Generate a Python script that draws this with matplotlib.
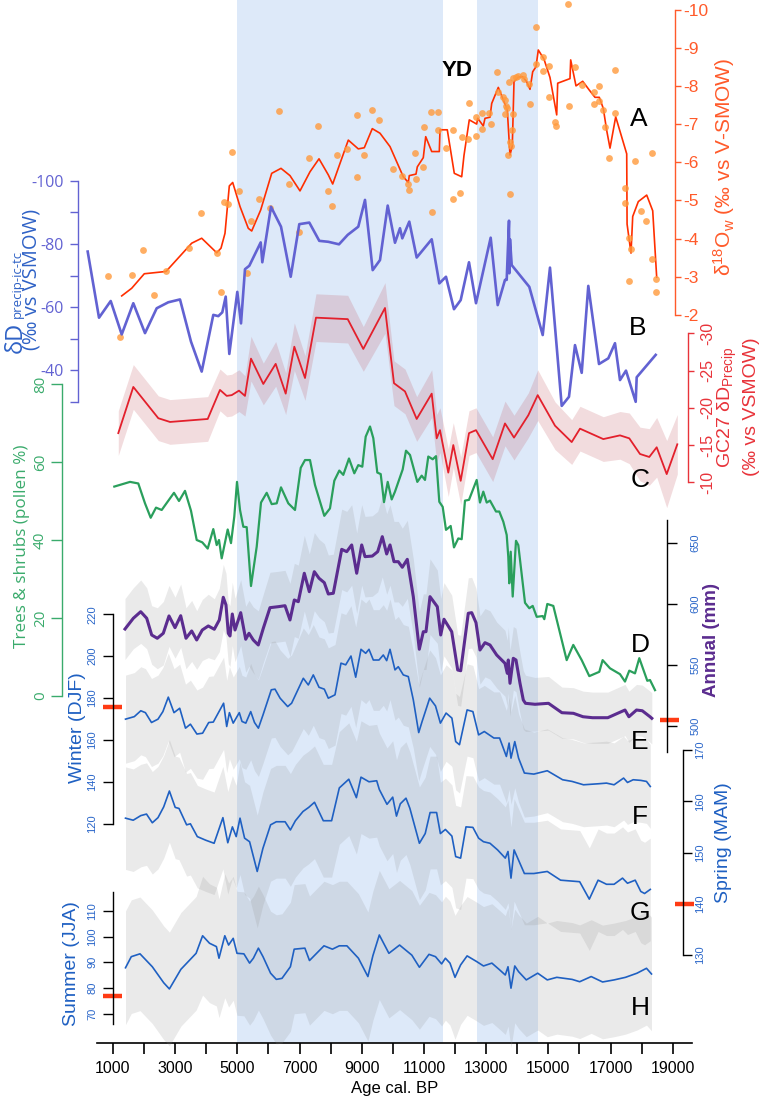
import numpy as np
import matplotlib
matplotlib.use("Agg")
import matplotlib.pyplot as plt

# ------------------------------------------------------------------ data
SHADE_HOLOCENE = (5000, 11600)
SHADE_BA = (12700, 14650)

A_LINE_AGE = [1280,1601,2006,2704,3530,3852,4334,4473,4601,4740,4849,5084,5350,5460,5749,6103,6402,6691,7013,7334,
              7624,7923,8064,8299,8566,8887,9080,9337,9585,9907,10334,10495,10527,10743,10785,10977,11055,11248,11492,11514,
              11749,11974,12212,12286,12456,12694,12727,12907,12961,13122,13177,13389,13444,13678,13765,13839,13894,14032,14173,14302,
              14408,14495,14601,14675,14858,15051,15267,15299,15694,15717,15887,16103,16315,16498,16637,16765,16875,16981,17164,17518,
              17530,17656,17711,17891,18161,18354,18482]
A_LINE_VAL = [-2.50,-2.70,-3.08,-3.14,-3.88,-4.01,-3.63,-3.75,-4.14,-5.38,-5.47,-4.84,-4.27,-4.20,-4.75,-5.71,-5.84,-5.65,-5.25,-5.75,
              -6.09,-5.67,-5.43,-5.97,-6.58,-6.35,-6.38,-6.88,-6.76,-6.41,-5.62,-5.47,-5.65,-5.69,-5.88,-6.12,-6.67,-6.28,-6.28,-6.85,
              -6.85,-5.71,-5.62,-6.18,-7.11,-7.00,-7.15,-6.95,-7.15,-7.18,-7.54,-7.96,-7.85,-7.37,-6.19,-6.43,-8.11,-8.23,-8.24,-8.11,
              -7.91,-8.37,-8.50,-8.94,-8.70,-8.22,-7.24,-8.07,-8.19,-8.68,-8.00,-8.12,-7.89,-7.70,-7.70,-7.41,-6.83,-6.37,-7.19,-6.22,
              -4.38,-3.62,-4.58,-4.97,-5.14,-4.73,-2.99]

A_DOT_AGE = [850,1225,1601,1974,2328,2704,3453,3820,4334,4463,4579,4707,4817,5061,5309,5428,5704,6048,6347,6669,
             6981,7293,7601,7903,8032,8212,8534,8855,8846,9080,9318,9553,10013,10283,10495,10518,10711,10743,10978,11000,
             11215,11267,11460,11460,11707,11923,11942,12167,12212,12405,12447,12662,12662,12855,12874,13090,13144,13357,13389,13550,
             13604,13636,13659,13614,13710,13742,13765,13788,13765,13820,13852,13872,13958,14032,14173,14215,14386,14408,14601,14601,
             14817,14836,15029,15029,15212,15235,15640,15662,15865,16071,16466,16466,16637,16637,16765,16810,16958,17141,17141,17463,
             17472,17794,17968,18129,17601,17646,17601,18321,18321,18447,18460]
A_DOT_VAL = [-3.01,-1.43,-3.05,-3.69,-2.53,-3.14,-3.76,-4.66,-3.63,-2.60,-4.95,-4.91,-6.27,-5.26,-3.09,-4.46,-5.03,-4.79,-7.34,-5.43,
             -4.18,-6.12,-6.94,-5.24,-4.85,-6.18,-6.35,-5.61,-7.24,-6.18,-7.37,-7.10,-5.82,-5.64,-5.43,-5.27,-6.24,-5.55,-5.88,-6.93,
             -7.32,-4.69,-7.32,-6.85,-6.38,-6.85,-5.03,-5.19,-6.67,-6.61,-7.54,-6.70,-7.19,-7.28,-6.87,-7.28,-6.99,-8.36,-7.85,-7.72,
             -7.63,-7.47,-7.41,-7.26,-6.19,-8.11,-6.54,-6.43,-5.17,-6.85,-7.26,-8.20,-8.23,-8.26,-8.29,-8.18,-8.05,-7.53,-8.57,-9.55,
             -8.76,-8.39,-8.53,-7.72,-7.06,-6.96,-10.14,-7.46,-8.50,-8.01,-7.85,-7.53,-8.00,-7.60,-7.37,-6.93,-6.10,-7.28,-8.42,-5.32,
             -4.93,-6.04,-4.73,-4.47,-4.01,-3.72,-2.90,-6.24,-3.46,-2.95,-2.61]

B_AGE = [186,550,926,1280,1653,2029,2405,2778,3154,3508,3852,4225,4386,4514,4624,4740,4997,5116,5244,5383,
         5749,5801,6080,6402,6714,6990,7312,7633,7923,8267,8547,8887,9103,9350,9585,9833,10067,10228,10302,10527,
         10765,11248,11492,11707,11964,12180,12447,12672,13144,13370,13604,13659,13733,13742,13765,13820,14386,14817,15051,15428,
         15662,15855,16071,16283,16627,16926,17141,17302,17495,17807,17839,18450]
B_VAL = [-77.6,-56.6,-61.9,-51.3,-61.2,-51.7,-59.6,-61.5,-62.4,-49.0,-39.5,-57.5,-57.1,-58.3,-63.3,-45.1,-64.8,-54.8,-72.0,-73.1,
         -80.5,-74.2,-91.8,-85.5,-69.6,-86.3,-86.8,-81.0,-80.7,-79.9,-82.9,-85.5,-94.0,-71.7,-74.9,-92.2,-80.4,-85.0,-81.8,-87.1,
         -75.7,-81.5,-67.5,-69.6,-59.3,-62.2,-74.2,-61.2,-82.0,-60.6,-68.6,-68.6,-87.4,-70.7,-81.5,-73.3,-66.4,-51.1,-72.5,-28.6,
         -31.5,-47.9,-39.1,-66.7,-41.9,-43.7,-48.5,-36.8,-39.8,-29.9,-37.7,-44.8]

C_AGE = [1170,1653,2457,2833,4045,4440,4656,4817,5051,5244,5437,5833,6231,6553,6830,7174,7527,8547,9048,9746,
         10035,10389,10765,11248,11408,11514,11781,11942,12180,12447,12672,13209,13604,13894,14354,14656,15212,15749,16016,16765,
         17302,17601,17945,18244,18482,18804,19145]
C_VAL = [-16.6,-22.8,-18.6,-18.1,-18.5,-22.4,-21.6,-21.7,-22.3,-21.6,-26.6,-23.2,-25.9,-21.9,-28.2,-24.0,-32.1,-31.9,-27.9,-33.4,
         -23.3,-22.2,-18.5,-21.9,-15.9,-17.0,-11.3,-15.0,-10.2,-16.6,-17.0,-13.1,-17.9,-16.0,-19.0,-21.7,-17.6,-15.4,-17.2,-15.8,
         -16.3,-15.9,-13.8,-13.4,-14.7,-11.1,-15.1]
C_ERR = [3.0,3.0,3.0,3.0,3.0,2.8,2.8,2.8,2.8,2.7,3.0,2.8,3.0,2.8,3.2,3.0,3.2,3.2,3.0,3.4,
         3.0,3.0,3.0,3.2,3.2,3.0,3.2,3.0,3.2,3.0,3.0,3.0,3.0,3.0,3.0,3.4,3.2,3.0,3.0,3.0,
         3.2,3.4,3.6,3.8,4.0,4.5,4.0]

POLLEN_AGE = [1042,1547,1813,2029,2212,2383,2566,2961,3122,3315,3508,3691,3871,4045,4225,4334,4408,4495,4688,4794,
              4900,4987,5084,5190,5299,5437,5621,5759,5942,6103,6264,6402,6637,6852,7036,7174,7334,7495,7794,7977,
              8116,8276,8405,8588,8759,8887,9016,9125,9264,9370,9498,9608,9714,9833,9961,10067,10315,10421,10550,10785,
              10926,11032,11138,11280,11386,11492,11601,11707,11858,11964,12103,12212,12318,12447,12694,12800,12907,13016,13122,13315,
              13421,13550,13659,13710,13742,13788,13852,13958,14032,14248,14386,14495,14624,14817,14868,14965,15158,15588,15800,16071,
              16315,16637,16743,16981,17302,17463,17601,17784,17923,18180,18267,18428]
POLLEN_VAL = [53.7,54.9,54.5,49.4,45.7,48.3,47.7,52.1,50.0,52.6,47.5,40.0,39.4,37.8,42.8,38.7,40.0,35.3,42.7,39.2,
              46.0,54.9,47.7,43.4,43.3,28.2,38.3,49.6,52.1,49.2,49.4,53.5,49.4,47.7,58.5,60.5,60.5,54.1,46.2,48.1,
              55.2,57.8,56.7,60.9,57.1,59.2,58.8,66.5,69.1,66.1,57.3,56.9,49.7,54.9,50.4,52.4,58.1,62.9,61.8,54.9,
              56.5,55.4,61.4,60.7,61.5,49.8,48.5,42.6,43.6,38.1,40.4,40.2,50.1,50.3,55.4,49.6,52.4,49.6,50.1,47.3,
              47.3,44.7,41.3,35.7,28.9,37.0,25.5,39.8,38.7,23.9,22.5,23.1,20.3,20.5,19.7,23.6,23.1,9.2,13.1,9.2,
              5.1,6.2,9.2,7.1,5.6,3.7,6.5,5.8,9.7,3.9,4.1,1.5]

ANN_AGE = [1386,1653,1891,2084,2244,2424,2617,2801,2994,3177,3347,3530,3691,3871,4064,4257,4418,4546,4633,4707,
           4762,4836,4923,5106,5267,5373,5511,5672,5833,6048,6315,6531,6691,6830,6958,7151,7312,7473,7624,7794,
           7923,8084,8354,8515,8675,8836,8997,9103,9337,9511,9659,9800,9907,10035,10173,10302,10463,10656,10849,10978,
           11064,11193,11428,11537,11643,11891,12084,12180,12424,12534,12672,12800,12961,13122,13337,13604,13678,13710,13765,13871,
           13958,14087,14193,14264,14569,15003,15434,15804,16112,16418,16910,17463,17588,17833,18019,18267,18325]
ANN_VAL = [579.5,588.3,593.7,588.3,574.6,571.9,576.0,590.2,580.6,590.4,571.9,577.9,570.5,578.7,582.0,579.3,586.9,605.5,599.2,576.0,
           573.8,591.8,578.7,592.9,571.1,576.0,570.5,566.4,580.1,597.0,597.8,598.6,586.9,603.3,601.9,625.2,610.1,626.5,621.1,617.5,
           608.2,608.8,644.8,642.9,648.4,625.2,648.4,638.8,639.3,642.9,655.2,641.0,648.4,634.7,634.7,630.1,636.6,606.0,562.9,577.3,
           577.3,606.0,597.8,574.6,587.5,577.3,545.9,545.3,592.4,592.9,584.7,562.3,568.3,566.4,558.2,551.4,543.2,554.1,535.0,555.5,
           554.1,535.0,521.3,518.6,517.8,518.6,510.9,510.4,507.6,506.8,506.8,513.1,507.6,513.1,512.5,507.6,506.3]
ANN_ERR = [25,25,26,25,24,25,26,25,25,26, 25,25,24,25,26,25,26,27,26,25,
           25,26,26,27,27,27,27,28,28,29, 29,29,30,30,30,31,31,32,32,32,
           32,32,33,33,33,33,33,33,33,33, 33,33,33,33,33,32,32,31,31,31,
           31,31,30,30,30,30,29,29,29,29, 28,28,28,28,27,27,27,27,27,26,
           26,25,24,23,22,22,21,21,21,21, 21,21,21,21,21,21,21]

WIN_AGE = [1402,1685,1894,2042,2238,2447,2604,2778,2961,3145,3331,3489,3698,3881,4077,4225,4556,4656,4743,4865,
           5061,5148,5270,5428,5550,5675,5823,6090,6209,6373,6617,6743,7119,7280,7440,7624,7794,7923,8138,8331,
           8482,8652,8804,8974,9125,9231,9370,9553,9691,9800,9907,10067,10173,10334,10495,10656,10830,10939,11183,11370,
           11527,11710,11897,12019,12141,12386,12572,12756,12939,13247,13430,13649,13736,13797,13919,14041,14228,14533,14964,15148,
           15457,15762,16128,16620,16868,17112,17418,17543,17726,17971,18154,18276]
WIN_VAL = [170.0,171.2,174.0,173.1,168.4,170.0,173.6,180.5,173.1,175.2,165.7,167.6,162.9,163.3,168.4,168.6,177.6,166.5,173.1,168.1,
           173.1,168.9,168.1,173.6,168.4,165.7,172.0,184.0,184.3,180.0,176.0,177.6,189.5,186.3,191.1,185.2,184.3,180.0,181.6,196.7,
           195.9,200.1,190.0,203.3,201.4,203.3,198.2,198.2,200.6,197.9,203.3,193.5,195.0,191.1,190.3,179.2,163.6,168.9,180.0,176.3,
           168.1,172.9,170.5,159.3,157.8,174.4,173.6,162.5,164.1,161.0,161.0,152.2,158.6,151.4,159.3,151.4,144.3,143.8,145.4,143.8,
           141.1,140.3,138.7,139.2,139.5,138.7,141.9,139.8,141.1,140.8,140.3,137.9]
WIN_ERR = [21,21,21,21,21,21,21,21,21,21, 21,21,21,22,22,22,22,22,22,22,
           22,22,22,23,23,23,23,23,23,23, 23,23,24,24,24,24,24,24,24,24,
           24,24,24,24,24,24,24,24,24,24, 24,24,24,24,24,23,23,23,23,23,
           23,23,23,23,23,22,22,22,22,22, 22,22,22,22,22,21,21,20,20,20,
           20,20,20,20,20,20,20,20,20,20, 20,20]

SPR_AGE = [1402,1650,1894,2077,2264,2447,2630,2813,3000,3122,3367,3489,3711,3981,4251,4534,4691,4839,4961,5084,
           5231,5392,5637,5820,6067,6251,6534,6704,6865,7109,7293,7479,7762,8029,8277,8582,8826,8974,9231,9479,
           9563,9810,9994,10115,10238,10421,10547,10852,11039,11196,11405,11527,11688,11897,12019,12177,12350,12572,12756,12913,
           13122,13367,13614,13701,13797,13897,14041,14228,14533,14964,15392,16006,16315,16598,16868,17112,17383,17543,17791,17971,
           18093,18276]
SPR_VAL = [156.7,156.3,157.2,157.5,155.8,156.8,158.9,162.0,158.8,158.6,155.4,155.6,153.1,152.4,151.8,156.8,151.9,155.0,153.1,156.7,
           152.8,152.1,146.3,150.8,155.4,156.0,156.0,154.4,156.2,158.0,158.8,159.8,156.2,156.2,162.6,164.3,160.7,164.7,163.8,164.0,
           162.3,159.4,160.8,157.1,159.5,160.6,158.6,151.8,153.7,157.8,157.8,153.7,154.5,153.2,149.2,148.9,155.0,154.9,152.8,152.1,
           151.8,150.5,148.9,150.2,145.0,150.5,148.5,145.9,145.9,146.3,144.6,144.3,140.9,144.6,143.8,143.8,145.0,144.0,144.6,142.4,
           142.0,142.8]
SPR_ERR = [10,10,10,10,10,10,10,10,10,10, 10,10,10,10,10,10,10,10,10,11,
           11,11,11,11,11,11,11,11,11,11, 11,11,11,11,11,11,11,11,11,11,
           11,11,11,11,11,11,11,11,11,11, 11,10,10,10,10,10,10,10,10,10,
           10,10,10,10,10,10,10,10,10,10, 10,10,10,10,10,10,10,10,10,10,
           10,10]

SUM_AGE = [1402,1588,1868,2264,2630,2813,3183,3672,3881,4103,4325,4408,4595,4717,4865,4987,5209,5392,5514,5675,
           5823,6067,6251,6434,6704,6826,7170,7318,7784,8055,8276,8521,8891,9196,9357,9563,9871,10215,10608,10852,
           11161,11370,11566,11688,11836,11997,12177,12386,12694,12913,13183,13431,13614,13701,13797,13919,14041,14289,14656,14964,
           15270,15762,16006,16376,16742,17112,17479,17849,18154,18315]
SUM_VAL = [87.9,92.2,93.3,88.3,82.1,79.7,87.3,93.5,100.3,97.4,96.1,91.6,100.3,96.7,99.3,93.5,93.3,89.7,91.6,95.5,
           92.2,85.8,83.4,83.8,88.3,95.1,95.5,90.7,96.4,95.1,96.4,96.4,91.6,84.5,92.6,100.6,93.5,96.7,92.8,88.1,
           93.1,92.2,89.4,91.6,89.7,84.2,89.0,92.5,90.3,88.6,89.7,87.1,85.1,88.3,80.0,88.6,86.4,83.2,85.8,83.2,
           84.2,83.4,82.5,84.5,82.4,83.2,84.2,85.8,87.7,85.5]
SUM_ERR = [22,22,22,22,22,22,22,22,23,23, 23,23,24,24,24,24,24,24,24,24,
           24,24,25,25,25,25,25,25,25,25, 25,25,25,25,25,25,25,25,25,24,
           24,24,24,24,24,24,23,23,23,23, 23,23,23,23,23,22,22,22,22,22,
           22,22,22,22,22,22,22,22,22,22]

# modern values (red marks on the axes)
MOD_WIN, MOD_ANN, MOD_SPR, MOD_SUM = 176, 505, 140, 77

XTICKS = list(range(1000, 19001, 1000))
XTICKLABELS = [str(t) if (t // 1000) % 2 == 1 else "" for t in XTICKS]

# ------------------------------------------------------------------ style
plt.rcParams['font.family'] = ['Liberation Sans', 'DejaVu Sans']
plt.rcParams['mathtext.fontset'] = 'custom'
plt.rcParams['mathtext.rm'] = 'Liberation Sans'
plt.rcParams['mathtext.it'] = 'Liberation Sans:italic'
plt.rcParams['mathtext.bf'] = 'Liberation Sans:bold'
plt.rcParams['axes.unicode_minus'] = False

W, H = 762, 1101
fig = plt.figure(figsize=(W / 100, H / 100), dpi=100)

PX_PER_YR = 0.0311
XL = (1000 - 113 / PX_PER_YR, 1000 + (W - 113) / PX_PER_YR)
AXIS_Y = 1043

BLUE_SHADE = '#dde9f9'
GRAY = '#8c8c8c'
C_A = '#ff2f00'; C_A_AX = '#ff5a2a'; C_DOT = '#ff9a3c'
C_B = '#6262d2'; C_B_LAB = '#2f62c6'
C_C = '#e3202c'; C_C_AX = '#e8333a'
C_P = '#2a9f5c'; C_P_AX = '#3aab6c'
C_ANN = '#5b2c8f'
C_SEAS = '#1f60c2'; C_TICKLAB = '#2a66c9'
C_MOD = '#ff3b14'


def new_ax(v1, p1, v2, p2, z):
    ax = fig.add_axes([0, 0, 1, 1], zorder=z)
    ax.set_xlim(*XL)
    k = (v2 - v1) / (p2 - p1)
    ax.set_ylim(v1 + (H - p1) * k, v1 - p1 * k)
    ax.patch.set_visible(False)
    for s in ax.spines.values():
        s.set_visible(False)
    ax.set_xticks([])
    ax.set_yticks([])
    return ax


def yaxis(ax, side, xpx, lo, hi, ticks, labels, color, tlen, lsize, rot, pad,
          lcolor=None, lw=1.0, family=None):
    ylim = ax.get_ylim()
    sp = ax.spines[side]
    sp.set_visible(True)
    sp.set_position(('axes', xpx / W))
    sp.set_bounds(lo, hi)
    sp.set_color(color)
    sp.set_linewidth(lw)
    ax.set_yticks(ticks)
    ax.set_yticklabels(labels)
    ax.set_ylim(ylim)
    ax.yaxis.set_ticks_position(side)
    ax.tick_params(axis='y', direction='out', length=tlen, width=lw, color=color,
                   labelcolor=lcolor or color, labelsize=lsize, pad=pad, labelrotation=rot)
    for t in ax.yaxis.get_major_ticks():
        for lab in (t.label1, t.label2):
            if rot:
                lab.set_va('center')
            if family:
                lab.set_family(family)


def vtext(xpx, ypx, s, **kw):
    fig.text(xpx / W, 1 - ypx / H, s, rotation=90, ha='center', va='center', **kw)


def modern(ax, val, x0, x1):
    ax.plot([x0 / W, x1 / W], [val, val], transform=ax.get_yaxis_transform(),
            color=C_MOD, lw=3.2, solid_capstyle='butt', clip_on=False)


def band(ax, age, val, err, color, alpha):
    v = np.asarray(val, float)
    e = np.asarray(err, float)
    ax.fill_between(age, v - e, v + e, color=color, alpha=alpha, lw=0)


# ------------------------------------------------------------------ base (time axis + shading)
base = fig.add_axes([0, 0, 1, 1], zorder=0)
base.set_xlim(*XL)
base.set_ylim(0, 1)
base.patch.set_visible(False)
for s in base.spines.values():
    s.set_visible(False)
base.set_yticks([])
ybot = 1 - AXIS_Y / H
for a0, a1 in (SHADE_HOLOCENE, SHADE_BA):
    base.axvspan(a0, a1, ymin=ybot, ymax=1, color=BLUE_SHADE, lw=0, zorder=0)
base.spines['bottom'].set_visible(True)
base.spines['bottom'].set_position(('axes', ybot))
base.spines['bottom'].set_bounds(490, 19620)
base.spines['bottom'].set_linewidth(1.2)
base.set_xticks(XTICKS)
base.set_xticklabels(XTICKLABELS)
base.tick_params(axis='x', direction='out', length=8, width=1.2, labelsize=11.5, pad=5)
fig.text(395 / W, 1 - 1089 / H, 'Age cal. BP', ha='center', va='center', fontsize=12)

# ------------------------------------------------------------------ band layers
axCb = new_ax(-30, 333.3, -10, 482.3, 1)
band(axCb, C_AGE, C_VAL, C_ERR, '#c0505a', 0.2)
axAnnB = new_ax(650, 543, 500, 726, 1)
band(axAnnB, ANN_AGE, ANN_VAL, ANN_ERR, GRAY, 0.18)
axWinB = new_ax(220, 614.3, 120, 824, 1)
band(axWinB, WIN_AGE, WIN_VAL, WIN_ERR, GRAY, 0.18)
axSprB = new_ax(170, 750, 130, 955, 1)
band(axSprB, SPR_AGE, SPR_VAL, SPR_ERR, GRAY, 0.18)
axSumB = new_ax(110, 910.7, 70, 1014, 1)
band(axSumB, SUM_AGE, SUM_VAL, SUM_ERR, GRAY, 0.18)

# ------------------------------------------------------------------ A: d18Ow
axA = new_ax(-10, 9.5, -2, 315, 3)
axA.plot(A_LINE_AGE, A_LINE_VAL, color=C_A, lw=1.2)
axA.scatter(A_DOT_AGE, A_DOT_VAL, s=24, color=C_DOT, alpha=0.8, lw=0, zorder=3)
yaxis(axA, 'right', 675, -10, -2, list(range(-10, -1)), [str(v) for v in range(-10, -1)],
      C_A_AX, 4, 12.5, 0, 2)
vtext(724, 167, 'δ$^{18}$O$_{\\mathrm{w}}$ (‰ vs V-SMOW)', color=C_A_AX, fontsize=15)

# ------------------------------------------------------------------ B: dD precip
axB = new_ax(-100, 181, -40, 370, 3)
axB.plot(B_AGE, B_VAL, color=C_B, lw=1.9)
yaxis(axB, 'left', 78, -100, -30, list(range(-100, -29, 10)),
      ['-100', '', '-80', '', '-60', '', '-40', ''], C_B, 6, 11.5, 0, 4, family='Open Sans')
fig.text(22 / W, 1 - 353 / H, 'δD', rotation=90, rotation_mode='anchor', ha='left',
         va='baseline', color=C_B_LAB, fontsize=17, family='Open Sans')
fig.text(20.5 / W, 1 - 318 / H, 'precip-ic-tc', rotation=90, rotation_mode='anchor', ha='left',
         va='baseline', color=C_B_LAB, fontsize=9.5, family='Open Sans')
vtext(32, 279, '(‰ vs VSMOW)', color=C_B_LAB, fontsize=14.5, family='Open Sans')

# ------------------------------------------------------------------ C: GC27
axC = new_ax(-30, 333.3, -10, 482.3, 3)
axC.plot(C_AGE, C_VAL, color=C_C, lw=1.3)
yaxis(axC, 'right', 688, -30, -10, [-30, -25, -20, -15, -10],
      ['-30', '-25', '-20', '-15', '-10'], C_C_AX, 4, 11.5, 90, 5)
vtext(738, 407, 'GC27 δD$_{\\mathrm{Precip}}$\n(‰ vs VSMOW)', color=C_C_AX, fontsize=14,
      multialignment='center', linespacing=1.25)

# ------------------------------------------------------------------ D: pollen
axP = new_ax(0, 696, 80, 384, 3)
axP.plot(POLLEN_AGE, POLLEN_VAL, color=C_P, lw=1.6)
yaxis(axP, 'left', 62, 0, 80, [0, 20, 40, 60, 80], ['0', '20', '40', '60', '80'],
      C_P_AX, 8, 11, 90, 2, family='Open Sans')
vtext(22, 546, 'Trees & shrubs (pollen %)', color=C_P_AX, fontsize=12.3, family='Open Sans')

# ------------------------------------------------------------------ annual precipitation
axAnn = new_ax(650, 543, 500, 726, 3)
axAnn.plot(ANN_AGE, ANN_VAL, color=C_ANN, lw=2.2)
yaxis(axAnn, 'right', 667, 479, 669, [500, 550, 600, 650], ['500', '550', '600', '650'],
      'black', 7, 8, 90, 10, lcolor=C_TICKLAB)
modern(axAnn, MOD_ANN, 660, 679)
vtext(712, 640, 'Annual (mm)', color=C_ANN, fontsize=13.5, fontweight='bold')

# ------------------------------------------------------------------ winter
axWin = new_ax(220, 614.3, 120, 824, 3)
axWin.plot(WIN_AGE, WIN_VAL, color=C_SEAS, lw=1.2)
yaxis(axWin, 'left', 113, 120, 220, [120, 140, 160, 180, 200, 220],
      ['120', '140', '160', '180', '200', '220'], 'black', 7, 8, 90, 4.5, lcolor=C_TICKLAB)
modern(axWin, MOD_WIN, 103, 122)
vtext(77, 728, 'Winter (DJF)', color=C_SEAS, fontsize=14)

# ------------------------------------------------------------------ spring
axSpr = new_ax(170, 750, 130, 955, 3)
axSpr.plot(SPR_AGE, SPR_VAL, color=C_SEAS, lw=1.2)
yaxis(axSpr, 'right', 683, 130, 170, [130, 140, 150, 160, 170],
      ['130', '140', '150', '160', '170'], 'black', 6.5, 8, 90, 2.5, lcolor=C_TICKLAB)
modern(axSpr, MOD_SPR, 675, 694)
vtext(723, 843, 'Spring (MAM)', color=C_SEAS, fontsize=14)

# ------------------------------------------------------------------ summer
axSum = new_ax(110, 910.7, 70, 1014, 3)
axSum.plot(SUM_AGE, SUM_VAL, color=C_SEAS, lw=1.2)
yaxis(axSum, 'left', 113, 66.1, 117.4, [70, 80, 90, 100, 110],
      ['70', '80', '90', '100', '110'], 'black', 7, 8, 90, 4.5, lcolor=C_TICKLAB)
modern(axSum, MOD_SUM, 103, 122)
vtext(71, 964, 'Summer (JJA)', color=C_SEAS, fontsize=14)

# ------------------------------------------------------------------ annotations
fig.text(457 / W, 1 - 70 / H, 'YD', ha='center', va='center', fontsize=16, fontweight='bold')
for letter, (lx, ly) in zip('ABCDEFGH', [(639, 119), (638, 328), (640, 480), (640, 645),
                                          (640, 742), (640, 817), (640, 913), (640, 1008)]):
    fig.text(lx / W, 1 - ly / H, letter, ha='center', va='center', fontsize=19)

fig.savefig('out.png', dpi=100)
